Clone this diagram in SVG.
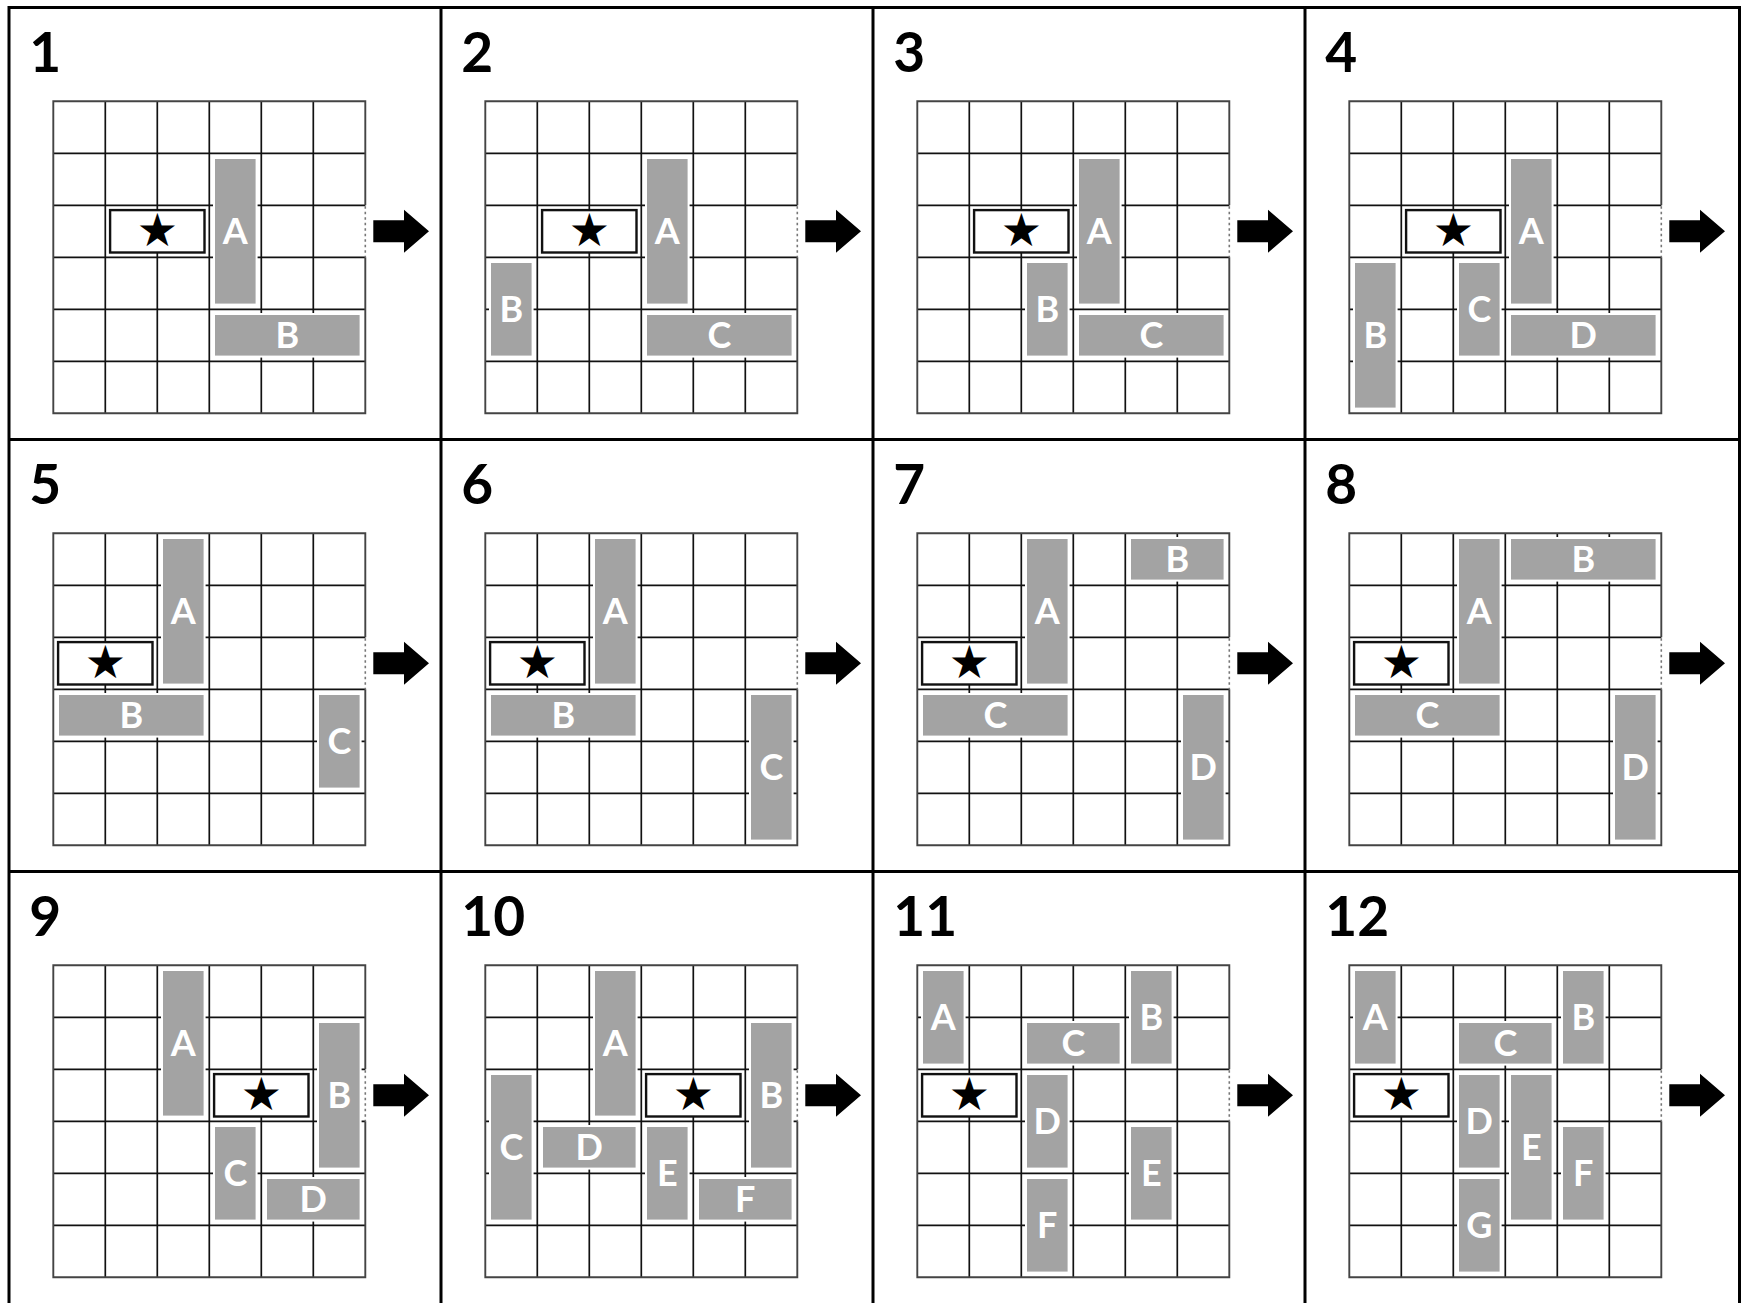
<svg xmlns="http://www.w3.org/2000/svg" xmlns:xlink="http://www.w3.org/1999/xlink" width="1741" height="1303" viewBox="0 0 1741 1303">
<style>
.bg{fill:#ffffff}
.gi{stroke:#111;stroke-width:1.7;fill:none}
.go{stroke:#444;stroke-width:1.9;fill:none}
.dot{stroke:#777;stroke-width:1.6;stroke-dasharray:2.5 3;fill:none}
.blk{fill:#a3a3a3;stroke:#fff;stroke-width:2}
.tgt{fill:#fff;stroke:#111;stroke-width:2.4}
.lbl{font-family:Lato,"Liberation Sans",sans-serif;font-weight:700;font-size:36px;fill:#fff;text-anchor:middle}
.star{font-family:"DejaVu Sans",sans-serif;font-size:46px;fill:#000;text-anchor:middle}
.num{font-family:Lato,"Liberation Sans",sans-serif;font-weight:700;font-size:55px;fill:#000}
.pb{stroke:#000;stroke-width:3;fill:none}
.arr{fill:#000}
</style>
<defs>
<g id="grid">
<path class="gi" d="M52 0V312M104 0V312M156 0V312M208 0V312M260 0V312M0 52H312M0 104H312M0 156H312M0 208H312M0 260H312"/>
<path class="go" d="M312 104V0H0V312H312V156"/>
<path class="dot" d="M312 105V156"/>
<polygon class="arr" points="320,119 350.7,119 350.7,108.5 375.7,130 350.7,151.5 350.7,141 320,141"/>
</g>
</defs>
<rect class="bg" x="0" y="0" width="1741" height="1303"/>
<g id="connectors">
<path class="pb" d="M9 7.5H1740M9 439.5H1740M9 871.5H1740M9 6V1303M441 6V1303M873 6V1303M1305 6V1303M1739.5 6V1303"/>
</g>
<!-- Panel 1 -->
<g id="panel1" transform="translate(53.3,101.3)">
<text class="num" x="-24" y="-29">1</text>
<use xlink:href="#grid"/>
<g id="p1-star"><rect class="tgt" x="56.8" y="108.8" width="94.4" height="42.4"/><text class="star" x="104" y="145">★</text></g>
<g id="p1-A"><rect class="blk" x="160.7" y="56.7" width="42.6" height="146.6"/><text class="lbl" x="182" y="143">A</text></g>
<g id="p1-B"><rect class="blk" x="160.7" y="212.7" width="146.6" height="42.6"/><text class="lbl" x="234" y="247">B</text></g>
</g>
<!-- Panel 2 -->
<g id="panel2" transform="translate(485.3,101.3)">
<text class="num" x="-24" y="-29">2</text>
<use xlink:href="#grid"/>
<g id="p2-star"><rect class="tgt" x="56.8" y="108.8" width="94.4" height="42.4"/><text class="star" x="104" y="145">★</text></g>
<g id="p2-A"><rect class="blk" x="160.7" y="56.7" width="42.6" height="146.6"/><text class="lbl" x="182" y="143">A</text></g>
<g id="p2-B"><rect class="blk" x="4.7" y="160.7" width="42.6" height="94.6"/><text class="lbl" x="26" y="221">B</text></g>
<g id="p2-C"><rect class="blk" x="160.7" y="212.7" width="146.6" height="42.6"/><text class="lbl" x="234" y="247">C</text></g>
</g>
<!-- Panel 3 -->
<g id="panel3" transform="translate(917.3,101.3)">
<text class="num" x="-24" y="-29">3</text>
<use xlink:href="#grid"/>
<g id="p3-star"><rect class="tgt" x="56.8" y="108.8" width="94.4" height="42.4"/><text class="star" x="104" y="145">★</text></g>
<g id="p3-A"><rect class="blk" x="160.7" y="56.7" width="42.6" height="146.6"/><text class="lbl" x="182" y="143">A</text></g>
<g id="p3-B"><rect class="blk" x="108.7" y="160.7" width="42.6" height="94.6"/><text class="lbl" x="130" y="221">B</text></g>
<g id="p3-C"><rect class="blk" x="160.7" y="212.7" width="146.6" height="42.6"/><text class="lbl" x="234" y="247">C</text></g>
</g>
<!-- Panel 4 -->
<g id="panel4" transform="translate(1349.3,101.3)">
<text class="num" x="-24" y="-29">4</text>
<use xlink:href="#grid"/>
<g id="p4-star"><rect class="tgt" x="56.8" y="108.8" width="94.4" height="42.4"/><text class="star" x="104" y="145">★</text></g>
<g id="p4-A"><rect class="blk" x="160.7" y="56.7" width="42.6" height="146.6"/><text class="lbl" x="182" y="143">A</text></g>
<g id="p4-B"><rect class="blk" x="4.7" y="160.7" width="42.6" height="146.6"/><text class="lbl" x="26" y="247">B</text></g>
<g id="p4-C"><rect class="blk" x="108.7" y="160.7" width="42.6" height="94.6"/><text class="lbl" x="130" y="221">C</text></g>
<g id="p4-D"><rect class="blk" x="160.7" y="212.7" width="146.6" height="42.6"/><text class="lbl" x="234" y="247">D</text></g>
</g>
<!-- Panel 5 -->
<g id="panel5" transform="translate(53.3,533.3)">
<text class="num" x="-24" y="-29">5</text>
<use xlink:href="#grid"/>
<g id="p5-star"><rect class="tgt" x="4.8" y="108.8" width="94.4" height="42.4"/><text class="star" x="52" y="145">★</text></g>
<g id="p5-A"><rect class="blk" x="108.7" y="4.7" width="42.6" height="146.6"/><text class="lbl" x="130" y="91">A</text></g>
<g id="p5-B"><rect class="blk" x="4.7" y="160.7" width="146.6" height="42.6"/><text class="lbl" x="78" y="195">B</text></g>
<g id="p5-C"><rect class="blk" x="264.7" y="160.7" width="42.6" height="94.6"/><text class="lbl" x="286" y="221">C</text></g>
</g>
<!-- Panel 6 -->
<g id="panel6" transform="translate(485.3,533.3)">
<text class="num" x="-24" y="-29">6</text>
<use xlink:href="#grid"/>
<g id="p6-star"><rect class="tgt" x="4.8" y="108.8" width="94.4" height="42.4"/><text class="star" x="52" y="145">★</text></g>
<g id="p6-A"><rect class="blk" x="108.7" y="4.7" width="42.6" height="146.6"/><text class="lbl" x="130" y="91">A</text></g>
<g id="p6-B"><rect class="blk" x="4.7" y="160.7" width="146.6" height="42.6"/><text class="lbl" x="78" y="195">B</text></g>
<g id="p6-C"><rect class="blk" x="264.7" y="160.7" width="42.6" height="146.6"/><text class="lbl" x="286" y="247">C</text></g>
</g>
<!-- Panel 7 -->
<g id="panel7" transform="translate(917.3,533.3)">
<text class="num" x="-24" y="-29">7</text>
<use xlink:href="#grid"/>
<g id="p7-star"><rect class="tgt" x="4.8" y="108.8" width="94.4" height="42.4"/><text class="star" x="52" y="145">★</text></g>
<g id="p7-A"><rect class="blk" x="108.7" y="4.7" width="42.6" height="146.6"/><text class="lbl" x="130" y="91">A</text></g>
<g id="p7-B"><rect class="blk" x="212.7" y="4.7" width="94.6" height="42.6"/><text class="lbl" x="260" y="39">B</text></g>
<g id="p7-C"><rect class="blk" x="4.7" y="160.7" width="146.6" height="42.6"/><text class="lbl" x="78" y="195">C</text></g>
<g id="p7-D"><rect class="blk" x="264.7" y="160.7" width="42.6" height="146.6"/><text class="lbl" x="286" y="247">D</text></g>
</g>
<!-- Panel 8 -->
<g id="panel8" transform="translate(1349.3,533.3)">
<text class="num" x="-24" y="-29">8</text>
<use xlink:href="#grid"/>
<g id="p8-star"><rect class="tgt" x="4.8" y="108.8" width="94.4" height="42.4"/><text class="star" x="52" y="145">★</text></g>
<g id="p8-A"><rect class="blk" x="108.7" y="4.7" width="42.6" height="146.6"/><text class="lbl" x="130" y="91">A</text></g>
<g id="p8-B"><rect class="blk" x="160.7" y="4.7" width="146.6" height="42.6"/><text class="lbl" x="234" y="39">B</text></g>
<g id="p8-C"><rect class="blk" x="4.7" y="160.7" width="146.6" height="42.6"/><text class="lbl" x="78" y="195">C</text></g>
<g id="p8-D"><rect class="blk" x="264.7" y="160.7" width="42.6" height="146.6"/><text class="lbl" x="286" y="247">D</text></g>
</g>
<!-- Panel 9 -->
<g id="panel9" transform="translate(53.3,965.3)">
<text class="num" x="-24" y="-29">9</text>
<use xlink:href="#grid"/>
<g id="p9-A"><rect class="blk" x="108.7" y="4.7" width="42.6" height="146.6"/><text class="lbl" x="130" y="91">A</text></g>
<g id="p9-star"><rect class="tgt" x="160.8" y="108.8" width="94.4" height="42.4"/><text class="star" x="208" y="145">★</text></g>
<g id="p9-B"><rect class="blk" x="264.7" y="56.7" width="42.6" height="146.6"/><text class="lbl" x="286" y="143">B</text></g>
<g id="p9-C"><rect class="blk" x="160.7" y="160.7" width="42.6" height="94.6"/><text class="lbl" x="182" y="221">C</text></g>
<g id="p9-D"><rect class="blk" x="212.7" y="212.7" width="94.6" height="42.6"/><text class="lbl" x="260" y="247">D</text></g>
</g>
<!-- Panel 10 -->
<g id="panel10" transform="translate(485.3,965.3)">
<text class="num" x="-24" y="-29">10</text>
<use xlink:href="#grid"/>
<g id="p10-A"><rect class="blk" x="108.7" y="4.7" width="42.6" height="146.6"/><text class="lbl" x="130" y="91">A</text></g>
<g id="p10-star"><rect class="tgt" x="160.8" y="108.8" width="94.4" height="42.4"/><text class="star" x="208" y="145">★</text></g>
<g id="p10-B"><rect class="blk" x="264.7" y="56.7" width="42.6" height="146.6"/><text class="lbl" x="286" y="143">B</text></g>
<g id="p10-C"><rect class="blk" x="4.7" y="108.7" width="42.6" height="146.6"/><text class="lbl" x="26" y="195">C</text></g>
<g id="p10-D"><rect class="blk" x="56.7" y="160.7" width="94.6" height="42.6"/><text class="lbl" x="104" y="195">D</text></g>
<g id="p10-E"><rect class="blk" x="160.7" y="160.7" width="42.6" height="94.6"/><text class="lbl" x="182" y="221">E</text></g>
<g id="p10-F"><rect class="blk" x="212.7" y="212.7" width="94.6" height="42.6"/><text class="lbl" x="260" y="247">F</text></g>
</g>
<!-- Panel 11 -->
<g id="panel11" transform="translate(917.3,965.3)">
<text class="num" x="-24" y="-29">11</text>
<use xlink:href="#grid"/>
<g id="p11-A"><rect class="blk" x="4.7" y="4.7" width="42.6" height="94.6"/><text class="lbl" x="26" y="65">A</text></g>
<g id="p11-B"><rect class="blk" x="212.7" y="4.7" width="42.6" height="94.6"/><text class="lbl" x="234" y="65">B</text></g>
<g id="p11-C"><rect class="blk" x="108.7" y="56.7" width="94.6" height="42.6"/><text class="lbl" x="156" y="91">C</text></g>
<g id="p11-star"><rect class="tgt" x="4.8" y="108.8" width="94.4" height="42.4"/><text class="star" x="52" y="145">★</text></g>
<g id="p11-D"><rect class="blk" x="108.7" y="108.7" width="42.6" height="94.6"/><text class="lbl" x="130" y="169">D</text></g>
<g id="p11-E"><rect class="blk" x="212.7" y="160.7" width="42.6" height="94.6"/><text class="lbl" x="234" y="221">E</text></g>
<g id="p11-F"><rect class="blk" x="108.7" y="212.7" width="42.6" height="94.6"/><text class="lbl" x="130" y="273">F</text></g>
</g>
<!-- Panel 12 -->
<g id="panel12" transform="translate(1349.3,965.3)">
<text class="num" x="-24" y="-29">12</text>
<use xlink:href="#grid"/>
<g id="p12-A"><rect class="blk" x="4.7" y="4.7" width="42.6" height="94.6"/><text class="lbl" x="26" y="65">A</text></g>
<g id="p12-B"><rect class="blk" x="212.7" y="4.7" width="42.6" height="94.6"/><text class="lbl" x="234" y="65">B</text></g>
<g id="p12-C"><rect class="blk" x="108.7" y="56.7" width="94.6" height="42.6"/><text class="lbl" x="156" y="91">C</text></g>
<g id="p12-star"><rect class="tgt" x="4.8" y="108.8" width="94.4" height="42.4"/><text class="star" x="52" y="145">★</text></g>
<g id="p12-D"><rect class="blk" x="108.7" y="108.7" width="42.6" height="94.6"/><text class="lbl" x="130" y="169">D</text></g>
<g id="p12-E"><rect class="blk" x="160.7" y="108.7" width="42.6" height="146.6"/><text class="lbl" x="182" y="195">E</text></g>
<g id="p12-F"><rect class="blk" x="212.7" y="160.7" width="42.6" height="94.6"/><text class="lbl" x="234" y="221">F</text></g>
<g id="p12-G"><rect class="blk" x="108.7" y="212.7" width="42.6" height="94.6"/><text class="lbl" x="130" y="273">G</text></g>
</g>
</svg>
